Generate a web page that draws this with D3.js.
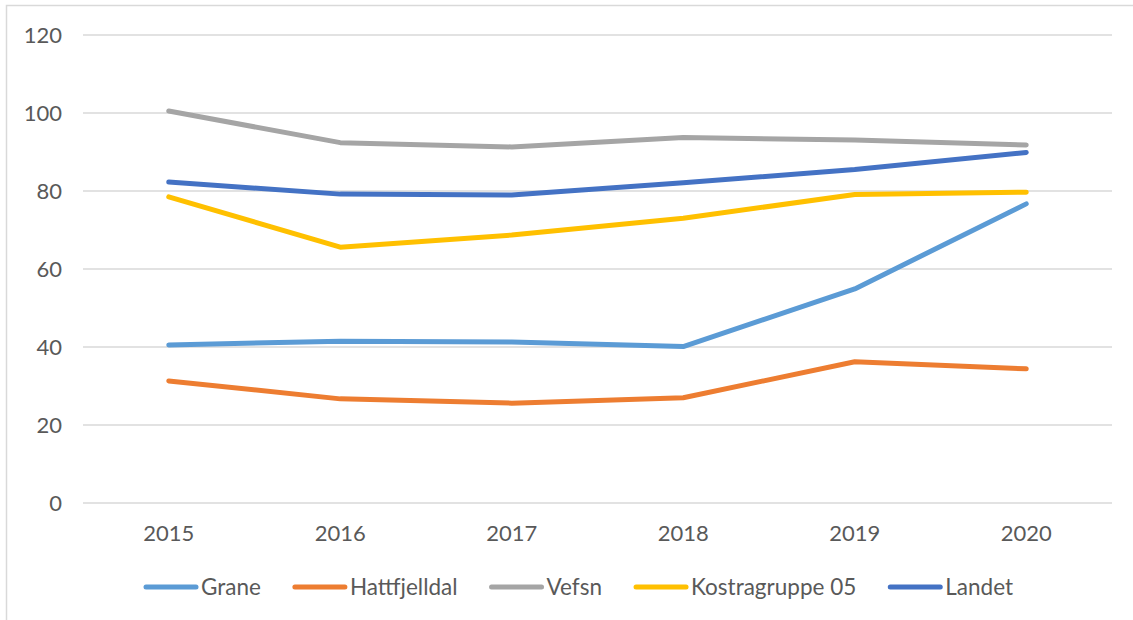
<!DOCTYPE html>
<html>
<head>
<meta charset="utf-8">
<script src="https://cdn.jsdelivr.net/npm/d3@7"></script>
<style>
  body { margin: 0; background: #fff; }
  text { font-family: Lato, "Open Sans", sans-serif; fill: #595959; }
</style>
</head>
<body>
<script>
var years = ['2015', '2016', '2017', '2018', '2019', '2020'];
var seriesNames = ['Grane', 'Hattfjelldal', 'Vefsn', 'Kostragruppe 05', 'Landet'];
var seriesColors = ['#5b9bd5', '#ed7d31', '#a5a5a5', '#ffc000', '#4472c4'];
var grane = [40.5, 41.5, 41.3, 40.1, 54.9, 76.7];
var hattfjelldal = [31.3, 26.7, 25.6, 27.0, 36.2, 34.4];
var vefsn = [100.5, 92.4, 91.3, 93.7, 93.1, 91.8];
var kostra = [78.5, 65.6, 68.7, 73.0, 79.1, 79.7];
var landet = [82.3, 79.2, 79.0, 82.1, 85.5, 89.9];
var yTicks = [0, 20, 40, 60, 80, 100, 120];

var seriesValues = [grane, hattfjelldal, vefsn, kostra, landet];

var width = 1133, height = 620;
var svg = d3.select('body').append('svg').attr('width', width).attr('height', height);

// chart border (right and bottom fall outside the picture)
svg.append('rect').attr('x', 6.5).attr('y', 5.5).attr('width', 1200).attr('height', 700)
  .attr('fill', 'none').attr('stroke', '#d9d9d9').attr('stroke-width', 1.5);

var x = d3.scaleBand().domain(years).range([83, 1112]);
var y = d3.scaleLinear().domain([0, 120]).range([503, 35]);

// gridlines
svg.append('g').selectAll('line').data(yTicks).enter().append('line')
  .attr('x1', 83).attr('x2', 1112)
  .attr('y1', function(d) { return y(d); }).attr('y2', function(d) { return y(d); })
  .attr('stroke', '#d9d9d9').attr('stroke-width', 1.5);

// y axis labels
var yAxis = svg.append('g').attr('transform', 'translate(72,0)')
  .call(d3.axisLeft(y).tickValues(yTicks).tickSize(0).tickPadding(10));
yAxis.select('.domain').remove();
yAxis.selectAll('text').style('font-size', '22px').style('font-family', 'Lato').attr('fill', '#595959');

// x axis labels
var xAxis = svg.append('g').attr('transform', 'translate(0,522)')
  .call(d3.axisBottom(x).tickSize(0).tickPadding(3));
xAxis.select('.domain').remove();
xAxis.selectAll('text').style('font-size', '22px').style('font-family', 'Lato').attr('fill', '#595959');

var line = d3.line()
  .x(function(d, i) { return x(years[i]) + x.bandwidth() / 2; })
  .y(function(d) { return y(d); });

svg.append('g').selectAll('path').data(seriesValues).enter().append('path')
  .attr('d', line)
  .attr('fill', 'none')
  .attr('stroke', function(d, i) { return seriesColors[i]; })
  .attr('stroke-width', 5)
  .attr('stroke-linecap', 'round')
  .attr('stroke-linejoin', 'round');

// legend
var legend = svg.append('g');
var lx = 144, ly = 587;
seriesNames.forEach(function(name, i) {
  legend.append('line').attr('x1', lx + 2).attr('x2', lx + 52).attr('y1', ly).attr('y2', ly)
    .attr('stroke', seriesColors[i]).attr('stroke-width', 5).attr('stroke-linecap', 'round');
  var t = legend.append('text').attr('x', lx + 57).attr('y', ly).attr('dy', '0.35em')
    .style('font-size', '22.5px').text(name);
  lx = lx + 57 + t.node().getComputedTextLength() + 32;
});
</script>
</body>
</html>
